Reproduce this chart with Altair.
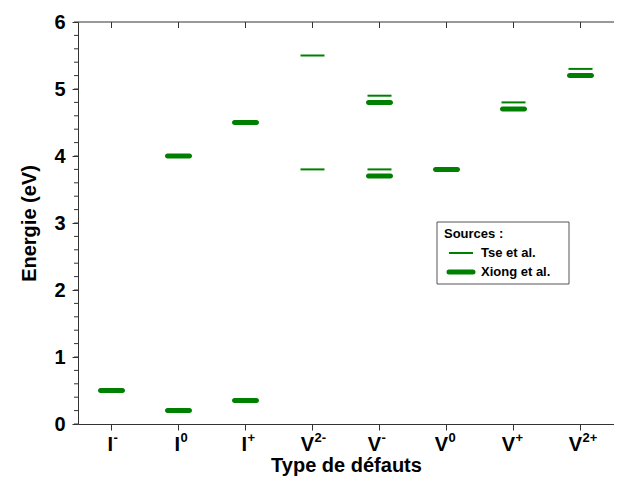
import altair as alt
import pandas as pd

categories = ["I⁻", "I⁰", "I⁺", "V²⁻", "V⁻", "V⁰", "V⁺", "V²⁺"]
label_base = ["I", "I", "I", "V", "V", "V", "V", "V"]
label_sup = ["-", "0", "+", "2-", "-", "0", "+", "2+"]

tse_cat = ["V²⁻", "V²⁻", "V⁻", "V⁻", "V⁺", "V²⁺"]
tse_val = [5.5, 3.8, 4.9, 3.8, 4.8, 5.3]

xiong_cat = ["I⁻", "I⁰", "I⁰", "I⁺", "I⁺", "V⁻", "V⁻", "V⁰", "V⁺", "V²⁺"]
xiong_val = [0.5, 4.0, 0.2, 4.5, 0.35, 4.8, 3.7, 3.8, 4.7, 5.2]

y_major = [0, 1, 2, 3, 4, 5, 6]
y_minor = [round(i * 0.2, 1) for i in range(31)]

FONT = "Liberation Sans"
GREEN = "#008000"
AXC = "#333333"
W, H = 536, 402

xscale = alt.Scale(domain=categories, paddingInner=0, paddingOuter=0)
yscale = alt.Scale(domain=[0, 6], nice=False)

tse = pd.DataFrame({"cat": tse_cat, "val": tse_val})
xiong = pd.DataFrame({"cat": xiong_cat, "val": xiong_val})
labels = pd.DataFrame({"cat": categories, "base": label_base, "sup": label_sup})

x_main = alt.X("cat:N", sort=categories, scale=xscale,
               axis=alt.Axis(title="Type de défauts", labels=False, tickSize=6,
                             titlePadding=25, titleFontSize=20,
                             titleFontWeight="bold", titleFont=FONT,
                             domainColor=AXC, tickColor=AXC, titleColor="black"))
y_main = alt.Y("val:Q", scale=yscale,
               axis=alt.Axis(title="Energie (eV)", values=y_major, tickSize=6,
                             labelPadding=7, titlePadding=14,
                             labelFontSize=20, titleFontSize=20,
                             labelFontWeight="bold", titleFontWeight="bold",
                             labelFont=FONT, titleFont=FONT,
                             domainColor=AXC, tickColor=AXC, labelColor="black",
                             titleColor="black"))

xiong_layer = alt.Chart(xiong).mark_tick(
    color=GREEN, thickness=5, size=27, cornerRadius=2.5, opacity=1
).encode(x=x_main, y=y_main)

tse_layer = alt.Chart(tse).mark_tick(
    color=GREEN, thickness=2, size=24, opacity=1
).encode(x=x_main, y=y_main)

# minor y ticks
minor_layer = alt.Chart(pd.DataFrame({"val": y_minor})).mark_rule(
    color=AXC, strokeWidth=1
).encode(y=y_main, x=alt.value(-4), x2=alt.value(0))

# top frame line and inward ticks
top_line = alt.Chart(pd.DataFrame({"a": [0]})).mark_rule(
    color=AXC, strokeWidth=1
).encode(x=alt.value(0), x2=alt.value(W + 10), y=alt.value(0))

top_ticks = alt.Chart(pd.DataFrame({"cat": categories})).mark_rule(
    color=AXC, strokeWidth=1
).encode(x=x_main, y=alt.value(0), y2=alt.value(6))

# x tick labels with superscripts
base_text = alt.Chart(labels).mark_text(
    align="right", baseline="alphabetic", dx=1.5, font=FONT, fontSize=20,
    fontWeight="bold", color="black"
).encode(x=x_main, y=alt.value(H + 27), text="base:N")
sup_text = alt.Chart(labels).mark_text(
    align="left", baseline="alphabetic", dx=2, font=FONT, fontSize=13,
    fontWeight="bold", color="black"
).encode(x=x_main, y=alt.value(H + 18), text="sup:N")

# legend (manual)
one = pd.DataFrame({"a": [0]})
leg_box = alt.Chart(one).mark_rect(
    fill="white", stroke="#555555", strokeWidth=1
).encode(x=alt.value(359), x2=alt.value(491), y=alt.value(200), y2=alt.value(262))
leg_title = alt.Chart(one).mark_text(
    text="Sources :", align="left", baseline="middle", font=FONT,
    fontSize=13, fontWeight="bold", color="black"
).encode(x=alt.value(366), y=alt.value(212))
leg_l1 = alt.Chart(one).mark_rule(color=GREEN, strokeWidth=2).encode(
    x=alt.value(371), x2=alt.value(395), y=alt.value(231))
leg_l2 = alt.Chart(one).mark_rule(color=GREEN, strokeWidth=5, strokeCap="round").encode(
    x=alt.value(371), x2=alt.value(395), y=alt.value(250))
leg_t1 = alt.Chart(one).mark_text(
    text="Tse et al.", align="left", baseline="middle", font=FONT,
    fontSize=13, fontWeight="bold", color="black"
).encode(x=alt.value(403), y=alt.value(231))
leg_t2 = alt.Chart(one).mark_text(
    text="Xiong et al.", align="left", baseline="middle", font=FONT,
    fontSize=13, fontWeight="bold", color="black"
).encode(x=alt.value(403), y=alt.value(250))

chart = alt.layer(
    xiong_layer, tse_layer, minor_layer, top_line, top_ticks,
    base_text, sup_text,
    leg_box, leg_title, leg_l1, leg_l2, leg_t1, leg_t2
).properties(
    width=W, height=H,
    autosize=alt.AutoSizeParams(type="none"),
    padding={"left": 70, "top": 14, "right": 0, "bottom": 55},
).configure_view(stroke=None).configure_axis(grid=False)

chart.save("out.html", embed_options={"renderer": "svg", "actions": False})
